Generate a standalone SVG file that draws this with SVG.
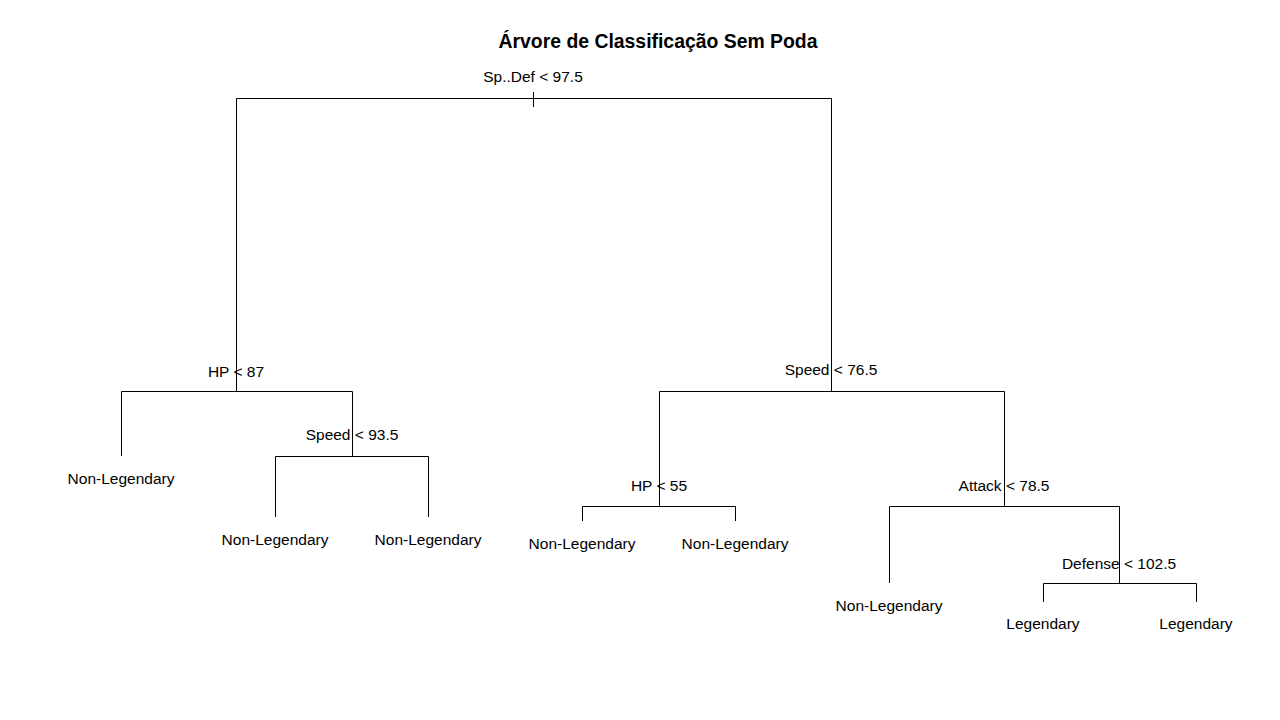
<svg xmlns="http://www.w3.org/2000/svg" width="1280" height="720" viewBox="0 0 1280 720">
<style>
.e{stroke:#000;stroke-width:1;fill:none}
.t{font-family:"Liberation Sans",Arial,sans-serif;font-size:15.5px;fill:#000;text-anchor:middle}
.h{font-family:"Liberation Sans",Arial,sans-serif;font-size:19.4px;font-weight:bold;fill:#000;text-anchor:middle}
</style>
<rect width="1280" height="720" fill="#fff"/>
<text class="h" x="658" y="48">Árvore de Classificação Sem Poda</text>
<g id="connectors">
<path class="e" d="M236.5,391V98.5H831.5V391"/>
<path class="e" d="M533.5,92V107"/>
<path class="e" d="M121.5,456V391.5H352.5V456"/>
<path class="e" d="M275.5,517V456.5H428.5V517"/>
<path class="e" d="M659.5,506V391.5H1004.5V506"/>
<path class="e" d="M582.5,521V506.5H735.5V521"/>
<path class="e" d="M889.5,583V506.5H1119.5V583"/>
<path class="e" d="M1043.5,602V583.5H1196.5V602"/>
</g>
<g id="n_spdef"><text class="t" x="533" y="82">Sp..Def &lt; 97.5</text></g>
<g id="n_hp87"><text class="t" x="236" y="377">HP &lt; 87</text></g>
<g id="n_leaf1"><text class="t" x="121" y="484">Non-Legendary</text></g>
<g id="n_speed935"><text class="t" x="352" y="440">Speed &lt; 93.5</text></g>
<g id="n_leaf2"><text class="t" x="275" y="545">Non-Legendary</text></g>
<g id="n_leaf3"><text class="t" x="428" y="545">Non-Legendary</text></g>
<g id="n_speed765"><text class="t" x="831" y="375">Speed &lt; 76.5</text></g>
<g id="n_hp55"><text class="t" x="659" y="491">HP &lt; 55</text></g>
<g id="n_leaf4"><text class="t" x="582" y="549">Non-Legendary</text></g>
<g id="n_leaf5"><text class="t" x="735" y="549">Non-Legendary</text></g>
<g id="n_attack"><text class="t" x="1004" y="491">Attack &lt; 78.5</text></g>
<g id="n_leaf6"><text class="t" x="889" y="611">Non-Legendary</text></g>
<g id="n_defense"><text class="t" x="1119" y="569">Defense &lt; 102.5</text></g>
<g id="n_leaf7"><text class="t" x="1043" y="629">Legendary</text></g>
<g id="n_leaf8"><text class="t" x="1196" y="629">Legendary</text></g>
</svg>
